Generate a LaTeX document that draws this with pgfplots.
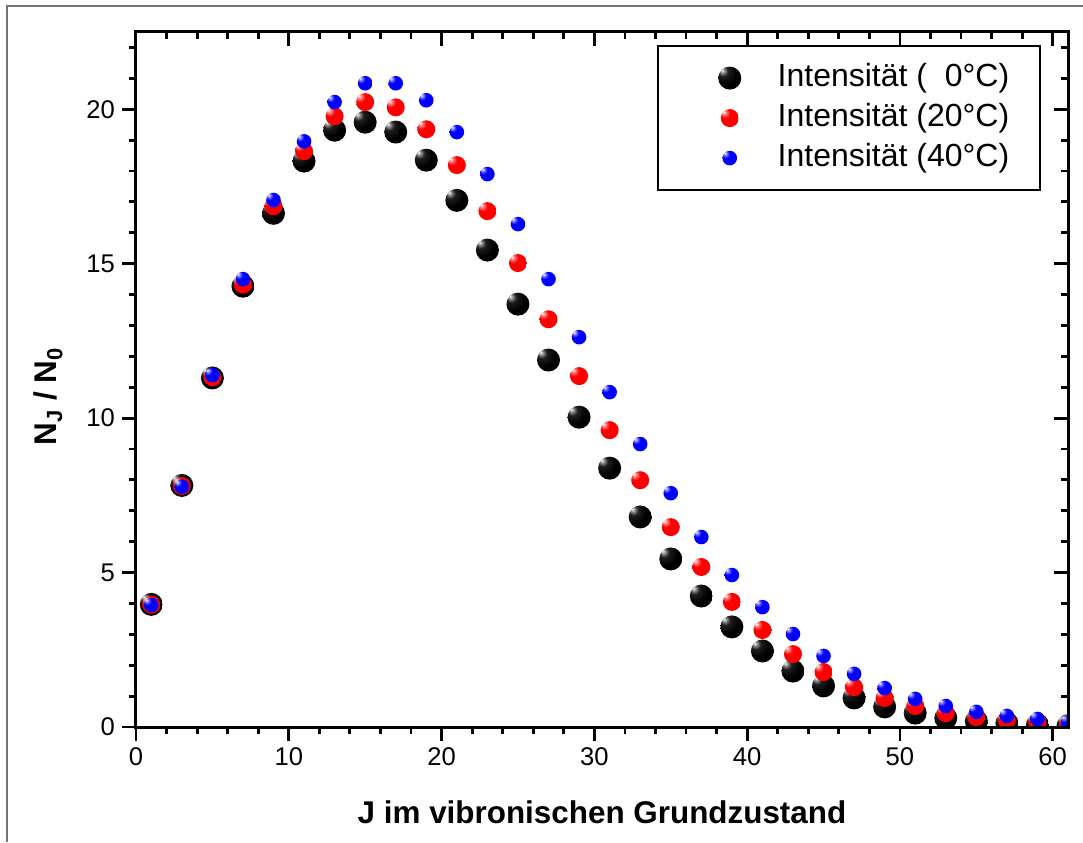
\documentclass[border=0pt]{standalone}
\usepackage{fontspec}
\setmainfont{Liberation Sans}
\usepackage{pgfplots}
\usepackage{pgfplotstable}
\pgfplotsset{compat=1.18}

\definecolor{myred}{RGB}{255,0,0}
\definecolor{myblue}{RGB}{0,0,255}
\pgfdeclareradialshading{blackballsh}{\pgfpoint{-17bp}{17bp}}{%
  color(0bp)=(white); color(4bp)=(black!40); color(11bp)=(black!88); color(25bp)=(black); color(80bp)=(black)}
\pgfdeclareradialshading{redballsh}{\pgfpoint{-17bp}{17bp}}{%
  color(0bp)=(white); color(5bp)=(myred!45!white); color(14bp)=(myred); color(50bp)=(myred); color(80bp)=(myred!90!black)}
\pgfdeclareradialshading{blueballsh}{\pgfpoint{-17bp}{17bp}}{%
  color(0bp)=(white); color(5bp)=(myblue!45!white); color(14bp)=(myblue); color(50bp)=(myblue); color(80bp)=(myblue!90!black)}
\pgfdeclareplotmark{blackball}{\pgfpathcircle{\pgfpointorigin}{\pgfplotmarksize}\pgfshadepath{blackballsh}{0}\pgfusepath{}}
\pgfdeclareplotmark{redball}{\pgfpathcircle{\pgfpointorigin}{\pgfplotmarksize}\pgfshadepath{redballsh}{0}\pgfusepath{}}
\pgfdeclareplotmark{blueball}{\pgfpathcircle{\pgfpointorigin}{\pgfplotmarksize}\pgfshadepath{blueballsh}{0}\pgfusepath{}}

\pgfplotstableread{
J    n0     n20    n40
1    3.97   3.96   3.95
3    7.82   7.80   7.78
5    11.30  11.32  11.39
7    14.27  14.32  14.50
9    16.63  16.86  17.06
11   18.32  18.64  18.96
13   19.32  19.77  20.23
15   19.58  20.23  20.84
17   19.26  20.06  20.84
19   18.35  19.35  20.29
21   17.05  18.19  19.26
23   15.44  16.70  17.90
25   13.69  15.02  16.28
27   11.88  13.20  14.50
29   10.03  11.36  12.62
31   8.38   9.61   10.84
33   6.80   7.99   9.16
35   5.44   6.47   7.57
37   4.24   5.18   6.15
39   3.24   4.05   4.92
41   2.46   3.14   3.88
43   1.81   2.36   3.01
45   1.33   1.78   2.30
47   0.94   1.29   1.72
49   0.65   0.94   1.26
51   0.45   0.68   0.91
53   0.29   0.45   0.68
55   0.19   0.32   0.49
57   0.12   0.22   0.36
59   0.07   0.15   0.26
61   0.04   0.10   0.16
}\datatable

\begin{document}
\begin{tikzpicture}
\pgfplotsset{
  base/.style={
    scale only axis, width=466pt, height=347.5pt,
    xmin=0, xmax=61, ymin=0, ymax=22.5,
    xtick={0,10,...,60}, ytick={0,5,...,20},
    minor xtick={2,4,...,60}, minor ytick={1,2,...,22},
    major tick length=7pt, minor tick length=3.5pt,
    every tick/.style={black, line width=1.4pt},
    axis line style={line width=1.5pt},
    /pgf/number format/assume math mode=true,
    tick label style={font=\fontsize{12.8}{15}\selectfont},
  }
}
\begin{axis}[base,
  xtick pos=bottom, ytick pos=left, tick align=outside,
  clip marker paths=true,
  xlabel={J im vibronischen Grundzustand},
  ylabel={N\textsubscript{J} / N\textsubscript{0}},
  label style={font=\bfseries\fontsize{15.7}{18}\selectfont},
  xlabel style={at={(axis description cs:0.5,-0.122)}, anchor=center},
  ylabel style={at={(axis description cs:-0.094,0.476)}, anchor=center},
  legend style={at={(axis description cs:0.559,0.981)}, anchor=north west,
    draw=black, line width=0.9pt, inner xsep=15.5pt, inner ysep=8.5pt,
    row sep=5pt, font=\fontsize{16}{19}\selectfont,
    nodes={inner sep=0pt, text height=11.5pt, text depth=3.5pt}},
  legend cell align=left,
  legend image code/.code={\path (-20pt,0pt) (23.5pt,0pt);
    \draw[mark repeat=2,mark phase=2,#1] plot coordinates {(-1pt,0pt) (0pt,0pt) (1pt,0pt)};},
]
\addplot[only marks, mark=blackball, mark size=5.75pt] table[x=J, y=n0] {\datatable};
\addlegendentry{Intensität (\phantom{2}0°C)}
\addplot[only marks, mark=redball, mark size=4.5pt] table[x=J, y=n20] {\datatable};
\addlegendentry{Intensität (20°C)}
\addplot[only marks, mark=blueball, mark size=3.65pt] table[x=J, y=n40] {\datatable};
\addlegendentry{Intensität (40°C)}
\end{axis}
\begin{axis}[base,
  xtick pos=top, ytick pos=right, tick align=inside,
  xticklabels={}, yticklabels={},
]
\end{axis}
\draw[line width=1pt, black!55] (-64.5pt,-57.5pt) -- (-64.5pt,360.5pt) -- (473.5pt,360.5pt);
\pgfresetboundingbox
\path[use as bounding box] (-68pt,-57.5pt) rectangle (473.5pt,363.5pt);
\end{tikzpicture}
\end{document}
